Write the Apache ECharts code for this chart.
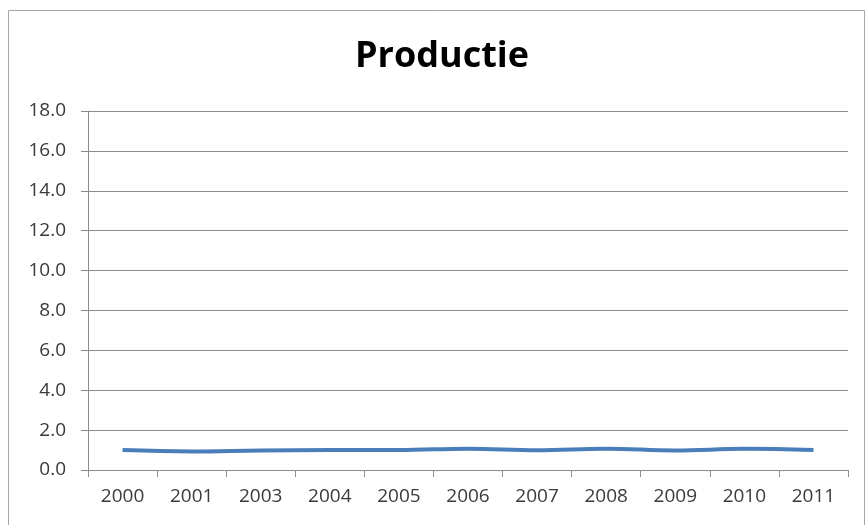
<!DOCTYPE html>
<html>
<head>
<meta charset="utf-8">
<script src="https://cdn.jsdelivr.net/npm/echarts@6/dist/echarts.min.js"></script>
<style>
  html, body { margin: 0; padding: 0; background: #ffffff; }
  #chart { width: 866px; height: 525px; }
</style>
</head>
<body>
<div id="chart"></div>
<script>
// Production index per year
const years = ['2000', '2001', '2003', '2004', '2005', '2006', '2007', '2008', '2009', '2010', '2011'];
const productie = [1.0, 0.93, 0.98, 1.0, 1.0, 1.07, 0.99, 1.07, 0.98, 1.06, 1.0];
const yMin = 0;
const yMax = 18;
const yStep = 2;

const chart = echarts.init(document.getElementById('chart'), null, { renderer: 'canvas' });
const axisGray = '#8c8c8c';
const textColor = '#3a3a3a';
const font = 'Open Sans';

chart.setOption({
  backgroundColor: '#ffffff',
  animation: false,
  graphic: [{
    type: 'rect',
    shape: { x: 8.5, y: 10.5, width: 856, height: 530 },
    style: { fill: 'none', stroke: '#a6a6a6', lineWidth: 1 },
    silent: true
  }],
  title: {
    text: 'Productie',
    left: 350,
    top: 34,
    textStyle: { fontFamily: font, fontWeight: 'bold', fontSize: 36, color: '#000000' }
  },
  grid: { left: 88, right: 18, top: 111, bottom: 55, containLabel: false },
  xAxis: {
    type: 'category',
    data: years,
    boundaryGap: true,
    axisLine: { lineStyle: { color: axisGray, width: 1 } },
    axisTick: { show: true, length: 7, lineStyle: { color: axisGray } },
    axisLabel: { fontFamily: font, fontSize: 19, color: textColor, margin: 17 },
    splitLine: { show: false }
  },
  yAxis: {
    type: 'value',
    min: yMin,
    max: yMax,
    interval: yStep,
    axisLine: { show: true, lineStyle: { color: axisGray, width: 1 } },
    axisTick: { show: true, length: 7, lineStyle: { color: axisGray } },
    axisLabel: {
      fontFamily: font, fontSize: 19, color: textColor, margin: 22,
      formatter: v => v.toFixed(1)
    },
    splitLine: { show: true, lineStyle: { color: axisGray, width: 1 } }
  },
  series: [{
    type: 'line',
    data: productie,
    smooth: 0.4,
    symbol: 'none',
    lineStyle: { color: '#4a7ebb', width: 4 },
    itemStyle: { color: '#4a7ebb' }
  }]
});
</script>
</body>
</html>
